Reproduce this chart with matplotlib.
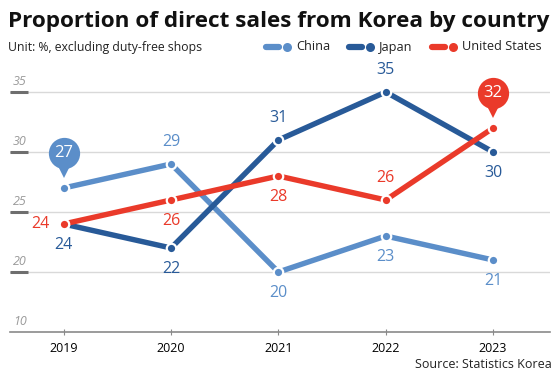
import matplotlib
matplotlib.use("Agg")
import matplotlib.pyplot as plt
import matplotlib.transforms as mtransforms
from matplotlib.lines import Line2D

years = [2019, 2020, 2021, 2022, 2023]
china = [27, 29, 20, 23, 21]
japan = [24, 22, 31, 35, 30]
usa = [24, 26, 28, 26, 32]
ytick_vals = [15, 20, 25, 30, 35]
ytick_labels = ["10", "20", "25", "30", "35"]

C_CN = "#5b8ec9"
C_JP = "#285a98"
C_US = "#ea3a2a"
FONT = "Open Sans"

plt.rcParams['font.family'] = [FONT, 'DejaVu Sans']

fig = plt.figure(figsize=(5.59, 3.76), dpi=100)
ax = fig.add_axes([10/559, 1-332/376, 540/559, 264/376])
ax.set_xlim(2018.5, 2023.53)
ax.set_ylim(15, 37)

for s in ["top", "right", "left"]:
    ax.spines[s].set_visible(False)
ax.spines["bottom"].set_color("#8a8a8a")
ax.spines["bottom"].set_linewidth(1.2)

# gridlines
for v in ytick_vals[1:]:
    ax.axhline(v, color="#d9d9d9", lw=1.0, zorder=0)
ax.set_yticks([])
ax.set_xticks(years)
ax.set_xticklabels([str(y) for y in years], fontsize=9)
ax.tick_params(axis="x", direction="inout", length=5, color="#8a8a8a", pad=5)

# y labels and short dark marks
for v, lab in zip(ytick_vals, ytick_labels):
    ax.text(0.005, v + 0.3, lab, transform=ax.get_yaxis_transform(),
            fontsize=9, style="italic", color="#9a9a9a", ha="left", va="bottom")
    if v != 15:
        ax.plot([0, 0.034], [v, v], transform=ax.get_yaxis_transform(),
                color="#6e6e6e", lw=2.2, solid_capstyle="butt", zorder=1, clip_on=False)

series = [(china, C_CN, 2), (japan, C_JP, 3), (usa, C_US, 4)]
for vals, col, z in series:
    ax.plot(years, vals, color=col, lw=3.9, zorder=z, solid_capstyle="butt",
            marker="o", markersize=6.8, markerfacecolor=col, markeredgecolor="white",
            markeredgewidth=1.6)

def lab(x, y, txt, col, dx, dy, ha="center", va="center"):
    ax.annotate(txt, (x, y), xytext=(dx, dy), textcoords="offset points",
                ha=ha, va=va, fontsize=11.5, color=col, zorder=10)

up, dn = 16, -15
# China
lab(years[1], china[1], "29", C_CN, 0, up)
lab(years[2], china[2], "20", C_CN, 0, dn)
lab(years[3], china[3], "23", C_CN, 0, dn)
lab(years[4], china[4], "21", C_CN, 0, dn)
# Japan
lab(years[0], japan[0], "24", C_JP, 0, dn)
lab(years[1], japan[1], "22", C_JP, 0, dn)
lab(years[2], japan[2], "31", C_JP, 0, up)
lab(years[3], japan[3], "35", C_JP, 0, up)
lab(years[4], japan[4], "30", C_JP, 0, dn)
# US
lab(years[0], usa[0], "24", C_US, -17, 0)
lab(years[1], usa[1], "26", C_US, 0, dn)
lab(years[2], usa[2], "28", C_US, 0, dn)
lab(years[3], usa[3], "26", C_US, 0, up)

def pin(x, y, txt, col):
    tc = mtransforms.offset_copy(ax.transData, fig=fig, x=0, y=25, units="points")
    tt = mtransforms.offset_copy(ax.transData, fig=fig, x=0, y=13, units="points")
    ax.plot([x], [y], marker="v", markersize=11, color=col, transform=tt,
            zorder=11, clip_on=False, markeredgewidth=0)
    ax.plot([x], [y], marker="o", markersize=22.5, color=col, transform=tc,
            zorder=12, clip_on=False, markeredgewidth=0)
    ax.text(x, y, txt, transform=tc, ha="center", va="center", color="white",
            fontsize=12, zorder=13)

pin(years[0], china[0], "27", C_CN)
pin(years[4], usa[4], "32", C_US)

# title, subtitle
fig.text(8/559, 1-21/376, "Proportion of direct sales from Korea by country",
         fontsize=16.2, fontweight="bold", ha="left", va="center", color="#111111")
fig.text(8/559, 1-47/376, "Unit: %, excluding duty-free shops",
         fontsize=8.8, ha="left", va="center", color="#222222")

# legend
leg = [("China", C_CN, 264), ("Japan", C_JP, 347), ("United States", C_US, 430)]
for name, col, x0 in leg:
    yy = 1 - 47/376
    fig.add_artist(Line2D([(x0+2)/559, (x0+15)/559], [yy, yy], color=col, lw=4.5,
                          solid_capstyle="round"))
    fig.add_artist(Line2D([(x0+23)/559], [yy], marker="o", markersize=6.5,
                          color=col, markeredgewidth=0))
    fig.text((x0+32)/559, yy, name, fontsize=9.2, ha="left", va="center", color="#222222")

fig.text(552/559, 1-364/376, "Source: Statistics Korea", fontsize=9,
         ha="right", va="center", color="#222222")

fig.savefig("out.png", dpi=100)
